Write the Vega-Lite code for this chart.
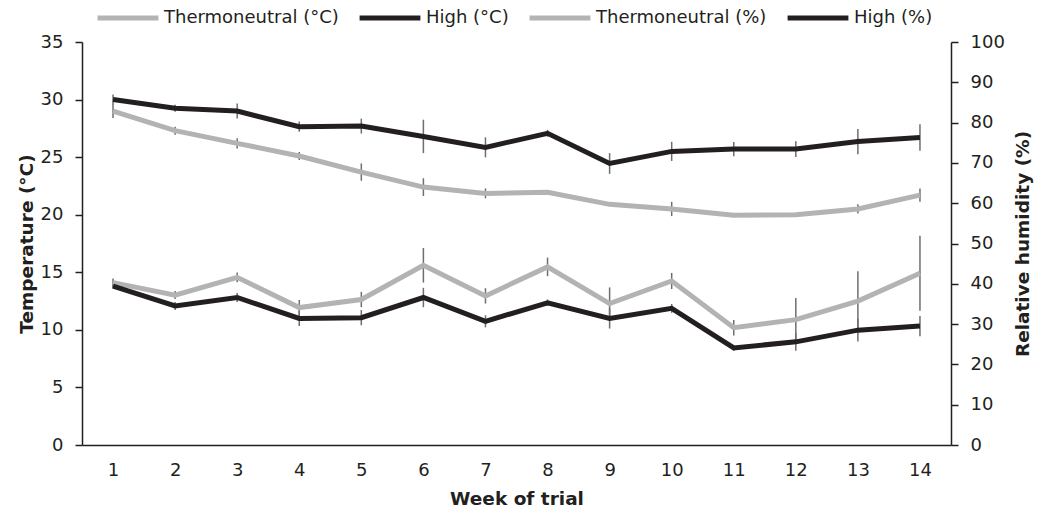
{
  "$schema": "https://vega.github.io/schema/vega-lite/v6.json",
  "width": 869,
  "height": 403,
  "autosize": "none",
  "padding": {"left": 82, "top": 42, "right": 87, "bottom": 68},
  "background": "white",
  "config": {
    "view": {"stroke": null},
    "font": "DejaVu Sans",
    "axis": {"grid": false, "domainColor": "#231f20", "tickColor": "#231f20", "labelColor": "#231f20", "titleColor": "#231f20", "labelFont": "DejaVu Sans", "titleFont": "DejaVu Sans", "labelFontSize": 18, "titleFontSize": 18.5, "titleFontWeight": "bold", "domainWidth": 1.5, "tickWidth": 1.5}
  },
  "datasets": {
    "temp": [
      {"week": 1, "series": "Thermoneutral (°C)", "value": 29.0, "err": 0.6},
      {"week": 2, "series": "Thermoneutral (°C)", "value": 27.3, "err": 0.35},
      {"week": 3, "series": "Thermoneutral (°C)", "value": 26.2, "err": 0.45},
      {"week": 4, "series": "Thermoneutral (°C)", "value": 25.1, "err": 0.35},
      {"week": 5, "series": "Thermoneutral (°C)", "value": 23.7, "err": 0.75},
      {"week": 6, "series": "Thermoneutral (°C)", "value": 22.4, "err": 0.77},
      {"week": 7, "series": "Thermoneutral (°C)", "value": 21.85, "err": 0.43},
      {"week": 8, "series": "Thermoneutral (°C)", "value": 21.95, "err": 0.1},
      {"week": 9, "series": "Thermoneutral (°C)", "value": 20.9, "err": 0.15},
      {"week": 10, "series": "Thermoneutral (°C)", "value": 20.5, "err": 0.62},
      {"week": 11, "series": "Thermoneutral (°C)", "value": 19.95, "err": 0.1},
      {"week": 12, "series": "Thermoneutral (°C)", "value": 20.0, "err": 0.1},
      {"week": 13, "series": "Thermoneutral (°C)", "value": 20.5, "err": 0.4},
      {"week": 14, "series": "Thermoneutral (°C)", "value": 21.7, "err": 0.58},
      {"week": 1, "series": "High (°C)", "value": 30.0, "err": 0.45},
      {"week": 2, "series": "High (°C)", "value": 29.25, "err": 0.3},
      {"week": 3, "series": "High (°C)", "value": 29.0, "err": 0.65},
      {"week": 4, "series": "High (°C)", "value": 27.65, "err": 0.45},
      {"week": 5, "series": "High (°C)", "value": 27.7, "err": 0.65},
      {"week": 6, "series": "High (°C)", "value": 26.8, "err": 1.45},
      {"week": 7, "series": "High (°C)", "value": 25.85, "err": 0.87},
      {"week": 8, "series": "High (°C)", "value": 27.07, "err": 0.3},
      {"week": 9, "series": "High (°C)", "value": 24.45, "err": 0.9},
      {"week": 10, "series": "High (°C)", "value": 25.5, "err": 0.83},
      {"week": 11, "series": "High (°C)", "value": 25.7, "err": 0.62},
      {"week": 12, "series": "High (°C)", "value": 25.7, "err": 0.68},
      {"week": 13, "series": "High (°C)", "value": 26.35, "err": 1.1},
      {"week": 14, "series": "High (°C)", "value": 26.7, "err": 1.15}
    ],
    "rh": [
      {"week": 1, "series": "Thermoneutral (%)", "value": 40.3, "err": 1.0},
      {"week": 2, "series": "Thermoneutral (%)", "value": 37.2, "err": 1.0},
      {"week": 3, "series": "Thermoneutral (%)", "value": 41.6, "err": 1.2},
      {"week": 4, "series": "Thermoneutral (%)", "value": 34.1, "err": 1.9},
      {"week": 5, "series": "Thermoneutral (%)", "value": 36.1, "err": 1.9},
      {"week": 6, "series": "Thermoneutral (%)", "value": 44.6, "err": 4.3},
      {"week": 7, "series": "Thermoneutral (%)", "value": 37.0, "err": 1.9},
      {"week": 8, "series": "Thermoneutral (%)", "value": 44.2, "err": 2.3},
      {"week": 9, "series": "Thermoneutral (%)", "value": 35.1, "err": 4.0},
      {"week": 10, "series": "Thermoneutral (%)", "value": 40.7, "err": 2.0},
      {"week": 11, "series": "Thermoneutral (%)", "value": 29.1, "err": 1.9},
      {"week": 12, "series": "Thermoneutral (%)", "value": 31.1, "err": 5.4},
      {"week": 13, "series": "Thermoneutral (%)", "value": 35.7, "err": 7.4},
      {"week": 14, "series": "Thermoneutral (%)", "value": 42.6, "err": 9.3},
      {"week": 1, "series": "High (%)", "value": 39.4, "err": 0.5},
      {"week": 2, "series": "High (%)", "value": 34.5, "err": 1.0},
      {"week": 3, "series": "High (%)", "value": 36.6, "err": 1.1},
      {"week": 4, "series": "High (%)", "value": 31.4, "err": 1.9},
      {"week": 5, "series": "High (%)", "value": 31.6, "err": 1.9},
      {"week": 6, "series": "High (%)", "value": 36.6, "err": 2.4},
      {"week": 7, "series": "High (%)", "value": 30.7, "err": 1.5},
      {"week": 8, "series": "High (%)", "value": 35.3, "err": 0.8},
      {"week": 9, "series": "High (%)", "value": 31.4, "err": 2.5},
      {"week": 10, "series": "High (%)", "value": 33.9, "err": 1.1},
      {"week": 11, "series": "High (%)", "value": 24.1, "err": 0.7},
      {"week": 12, "series": "High (%)", "value": 25.6, "err": 2.2},
      {"week": 13, "series": "High (%)", "value": 28.5, "err": 2.8},
      {"week": 14, "series": "High (%)", "value": 29.5, "err": 2.5}
    ]
  },
  "encoding": {
    "x": {
      "field": "week", "type": "ordinal",
      "scale": {"type": "point", "padding": 0.5},
      "axis": {"title": "Week of trial", "labelAngle": 0, "ticks": false, "labelPadding": 16, "titlePadding": 10}
    }
  },
  "layer": [
    {
      "data": {"name": "temp"},
      "encoding": {
        "y": {"field": "value", "type": "quantitative", "scale": {"domain": [0, 35], "nice": false, "zero": true},
          "axis": {"orient": "left", "title": "Temperature (°C)", "values": [0, 5, 10, 15, 20, 25, 30, 35], "tickSize": 7, "labelPadding": 12, "titlePadding": 4}}
      },
      "layer": [
        {
          "transform": [{"calculate": "datum.value - datum.err", "as": "lo"}, {"calculate": "datum.value + datum.err", "as": "hi"}],
          "mark": {"type": "rule", "color": "#6d6e71", "strokeWidth": 1.5},
          "encoding": {"y": {"field": "lo", "type": "quantitative"}, "y2": {"field": "hi"}}
        },
        {
          "mark": {"type": "line", "strokeWidth": 5},
          "encoding": {
            "color": {"field": "series", "type": "nominal",
              "scale": {"domain": ["Thermoneutral (°C)", "High (°C)", "Thermoneutral (%)", "High (%)"], "range": ["#b3b3b5", "#231f20", "#b3b3b5", "#231f20"]},
              "legend": {"title": null, "orient": "none", "direction": "horizontal", "legendX": 13, "legendY": -57, "symbolType": "stroke", "symbolSize": 3700, "symbolStrokeWidth": 5, "labelFontSize": 18, "labelColor": "#231f20", "labelFont": "DejaVu Sans", "labelOffset": 3, "columnPadding": 10, "columns": 4, "labelLimit": 300}}
          }
        }
      ]
    },
    {
      "data": {"name": "rh"},
      "encoding": {
        "y": {"field": "value", "type": "quantitative", "scale": {"domain": [0, 100], "nice": false, "zero": true},
          "axis": {"orient": "right", "title": "Relative humidity (%)", "values": [0, 10, 20, 30, 40, 50, 60, 70, 80, 90, 100], "tickSize": 7, "labelPadding": 12, "titlePadding": 9, "titleAngle": 270, "titleBaseline": "top"}}
      },
      "layer": [
        {
          "transform": [{"calculate": "datum.value - datum.err", "as": "lo"}, {"calculate": "datum.value + datum.err", "as": "hi"}],
          "mark": {"type": "rule", "color": "#6d6e71", "strokeWidth": 1.5},
          "encoding": {"y": {"field": "lo", "type": "quantitative"}, "y2": {"field": "hi"}}
        },
        {
          "mark": {"type": "line", "strokeWidth": 5},
          "encoding": {
            "color": {"field": "series", "type": "nominal"}
          }
        }
      ]
    }
  ],
  "resolve": {"scale": {"y": "independent"}}
}
